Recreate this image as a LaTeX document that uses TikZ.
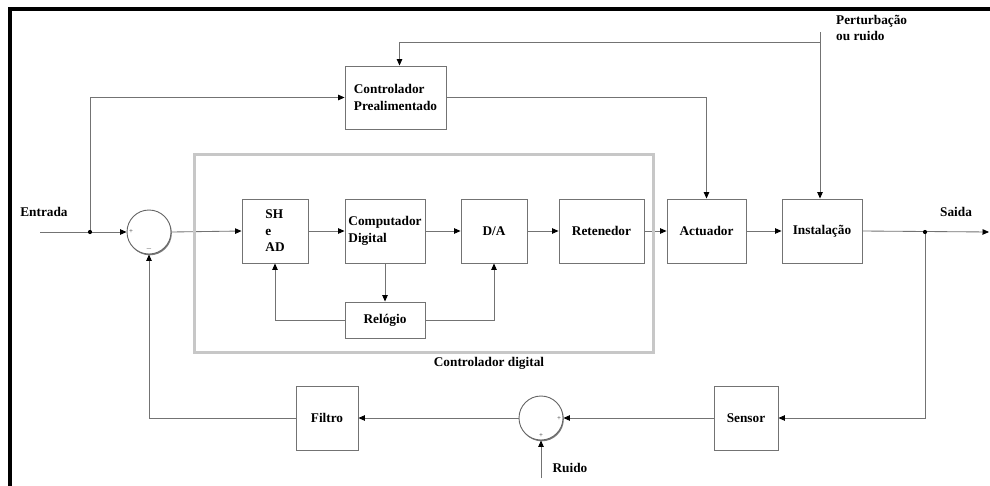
\documentclass[tikz,border=0pt]{standalone}
\usepackage{fontspec}
\setmainfont{Liberation Serif}
\usetikzlibrary{arrows.meta,shadows,calc}
\newcommand{\lbl}{\bfseries\fontsize{13.3}{16.5}\selectfont}
\newcommand{\sgn}{\fontsize{7}{7}\selectfont}
\begin{document}
\begin{tikzpicture}[x=1pt,y=-1pt,
  blk/.style={draw=black!55,line width=0.9pt,fill=white,
    drop shadow={shadow xshift=1.3pt,shadow yshift=-1.3pt,fill=black!65,opacity=0.8},
    inner sep=2pt,font=\lbl,align=center},
  sumnode/.style={circle,draw=black!60,line width=0.9pt,fill=white,minimum size=44pt,inner sep=0pt,
    drop shadow={shadow xshift=0.8pt,shadow yshift=-1.3pt,fill=black!65,opacity=0.8}},
  wire/.style={draw=black!55,line width=0.85pt},
  arr/.style={wire,-{Triangle[length=6.5pt,width=5.5pt,color=black]}},
  jdot/.style={circle,fill=black,inner sep=0pt,minimum size=4.2pt},
  txt/.style={font=\lbl,inner sep=0pt},
  sgnl/.style={font=\sgn,inner sep=0pt,text=black!80}
]
\useasboundingbox (0,0) rectangle (990,485);
\fill[white] (0,0) rectangle (990,485);

% frame lines
\draw[line width=3.5pt,line join=miter] (10,487) -- (10,9) -- (992,9);

% blocks
\node[blk,align=left,minimum width=101pt,minimum height=63pt] (pre) at (395.5,97.5) {Controlador\\Prealimentado};
\node[blk,align=left,minimum width=66pt,minimum height=64pt] (shad) at (275,231) {SH\\e\\AD};
\node[blk,align=left,minimum width=80pt,minimum height=64pt] (comp) at (385,231) {Computador\\Digital};
\node[blk,minimum width=66pt,minimum height=64pt] (da) at (494,231) {D/A};
\node[blk,minimum width=85pt,minimum height=64pt] (ret) at (601.5,231) {Retenedor};
\node[blk,minimum width=79pt,minimum height=64pt] (act) at (706.5,231) {Actuador};
\node[blk,minimum width=80pt,minimum height=64pt] (inst) at (822,231) {Instalação};
\node[blk,minimum width=80pt,minimum height=36pt] (rel) at (385,320) {Relógio};
\node[blk,minimum width=62pt,minimum height=64pt] (filt) at (327,418) {Filtro};
\node[blk,minimum width=64pt,minimum height=64pt] (sens) at (746,418) {Sensor};

% summing junctions
\node[sumnode] (sum1) at (149,232) {};
\node[sumnode] (sum2) at (541,418) {};
\node[sgnl] at (131,232) {+};
\node[sgnl] at (149,249) {$-$};
\node[sgnl] at (559,419) {+};
\node[sgnl] at (541,436) {+};

% labels
\node[txt] (entrada) at (44,212) {Entrada};
\node[txt] (saida) at (956,212) {Saida};
\node[txt,anchor=north west,align=left] (pert) at (836,15) {Perturbação\\ou ruido};
\node[txt] (ruido) at (570,468) {Ruido};
\node[txt] (cdig) at (489,363) {Controlador digital};

% free ends and branch points
\coordinate (inp) at (40,232);
\coordinate (outp) at (989,232);
\coordinate (ptop) at (820,32);
\coordinate (pj) at (820,42);
\coordinate (rin) at (541,478);
\coordinate (j1) at (90,232);
\coordinate (j2) at (925,232);

% forward path
\draw[arr] (inp) -- (sum1.west);
\draw[arr] (j1) |- (pre.west);
\draw[arr] (sum1.east) -- (shad.west);
\draw[arr] (shad.east) -- (comp.west);
\draw[arr] (comp.east) -- (da.west);
\draw[arr] (da.east) -- (ret.west);
\draw[arr] (ret.east) -- (act.west);
\draw[arr] (act.east) -- (inst.west);
\draw[arr] (inst.east) -- (outp);
\draw[arr] (pre.east) -| (act.north);

% clock
\draw[arr] (comp.south) -- (rel.north);
\draw[arr] (rel.west) -| (shad.south);
\draw[arr] (rel.east) -| (da.south);

% disturbance
\draw[arr] (ptop) -- (ptop |- inst.north);
\draw[arr] (pj) -| ([xshift=4pt]pre.north);

% feedback path
\draw[arr] (j2) |- (sens.east);
\draw[arr] (sens.west) -- (sum2.east);
\draw[arr] (sum2.west) -- (filt.east);
\draw[arr] (filt.west) -| (sum1.south);
\draw[arr] (rin) -- (sum2.south);

% branch dots
\node[jdot] (d1) at (j1) {};
\node[jdot] (d2) at (j2) {};

% digital controller boundary
\draw[black!22,line width=3pt] (194,154) rectangle (653,352);
\end{tikzpicture}
\end{document}
